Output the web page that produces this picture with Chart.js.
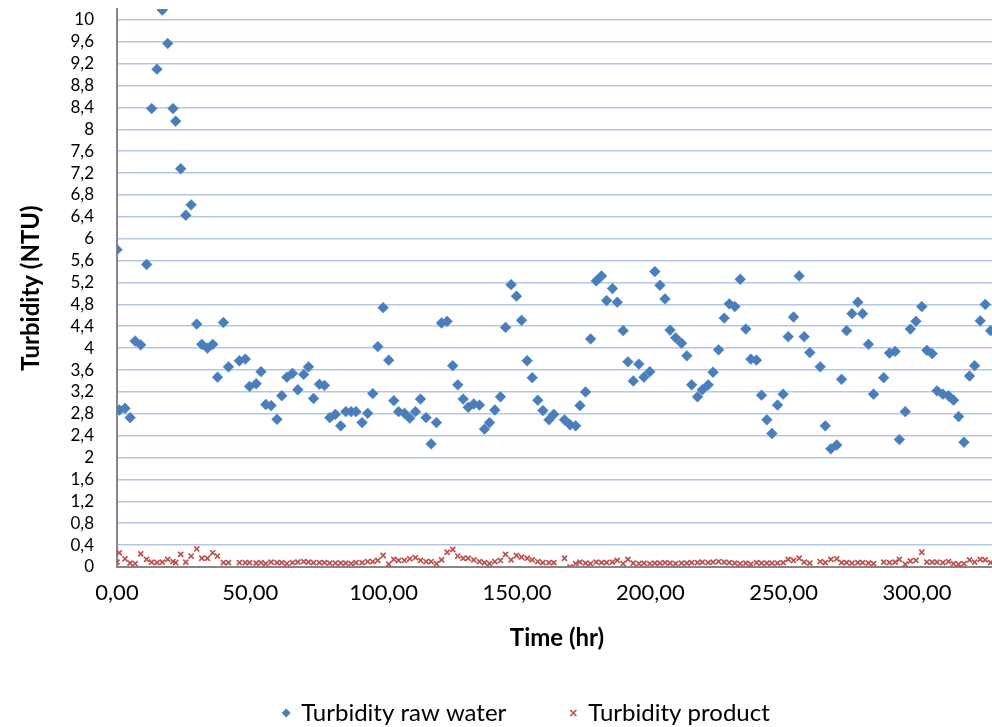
<!DOCTYPE html>
<html>
<head>
<meta charset="utf-8">
<script src="https://cdn.jsdelivr.net/npm/chart.js@4.4.1/dist/chart.umd.min.js"></script>
<style>
    html, body { margin: 0; padding: 0; background: #fff; overflow: hidden; }
    #chart-wrap { position: relative; width: 1052px; height: 727px; }
</style>
</head>
<body>
<div id="chart-wrap"><canvas id="turbidityChart"></canvas></div>
<script>
// sampling times (hr), shared by both series
const sampleHours = [
    0, 0.9, 3.0, 4.9, 6.8, 8.9, 11.1, 13.0, 15.0, 17.0, 19.0, 21.0, 22.0, 23.9, 25.8, 27.8,
    29.9, 31.8, 33.9, 35.9, 37.7, 39.9, 41.8, 45.9, 48.1, 49.7, 52.2, 54.0, 55.8, 57.8, 60.0,
    61.8, 63.7, 65.8, 67.8, 70.0, 71.8, 73.7, 75.9, 77.8, 79.8, 81.9, 83.9, 85.8, 87.8, 89.6,
    91.9, 94.0, 95.9, 97.8, 99.8, 101.9, 103.8, 105.6, 107.8, 109.8, 111.9, 113.8, 115.9, 117.8,
    119.8, 121.7, 123.8, 125.9, 127.8, 129.8, 131.7, 133.8, 135.9, 137.8, 139.7, 141.7, 143.8,
    145.7, 147.8, 149.8, 151.7, 153.8, 155.7, 157.8, 159.7, 162.0, 163.8, 167.8, 169.9, 172.0,
    173.6, 175.7, 177.6, 179.7, 181.7, 183.6, 185.8, 187.6, 189.8, 191.6, 193.6, 195.7, 197.6,
    199.8, 201.7, 203.6, 205.5, 207.4, 209.5, 211.7, 213.7, 215.5, 217.7, 219.5, 221.7, 223.5,
    225.6, 227.7, 229.6, 231.7, 233.7, 235.8, 237.7, 239.8, 241.7, 243.7, 245.6, 247.7, 249.8,
    251.7, 253.7, 255.8, 257.7, 259.8, 263.7, 265.6, 267.7, 269.9, 271.7, 273.6, 275.6, 277.8,
    279.6, 281.8, 283.7, 287.5, 289.7, 291.8, 293.4, 295.6, 297.5, 299.6, 301.8, 303.7, 305.7,
    307.5, 309.7, 311.8, 313.7, 315.6, 317.6, 319.7, 321.6, 323.7, 325.6, 327.6
];

const rawWaterNtu = [
    5.80, 2.87, 2.90, 2.73, 4.13, 4.06, 5.53, 8.38, 9.10, 10.18, 9.57, 8.38, 8.15, 7.28, 6.43, 6.62,
    4.44, 4.07, 4.00, 4.07, 3.47, 4.47, 3.66, 3.77, 3.80, 3.30, 3.35, 3.57, 2.97, 2.95, 2.70,
    3.13, 3.47, 3.54, 3.24, 3.52, 3.66, 3.08, 3.34, 3.32, 2.73, 2.79, 2.58, 2.84, 2.84, 2.84,
    2.64, 2.81, 3.17, 4.03, 4.74, 3.78, 3.04, 2.84, 2.81, 2.72, 2.84, 3.07, 2.73, 2.25,
    2.64, 4.46, 4.49, 3.68, 3.33, 3.07, 2.92, 2.98, 2.96, 2.52, 2.64, 2.87, 3.11,
    4.38, 5.16, 4.95, 4.51, 3.77, 3.46, 3.05, 2.86, 2.69, 2.79, 2.69, 2.60, 2.58,
    2.95, 3.20, 4.17, 5.23, 5.32, 4.87, 5.09, 4.84, 4.32, 3.75, 3.40, 3.71, 3.47,
    3.57, 5.40, 5.15, 4.90, 4.33, 4.19, 4.09, 3.86, 3.33, 3.11, 3.24, 3.33, 3.56,
    3.97, 4.55, 4.81, 4.76, 5.26, 4.35, 3.80, 3.78, 3.14, 2.69, 2.44, 2.96, 3.16,
    4.21, 4.57, 5.32, 4.21, 3.92, 3.66, 2.58, 2.16, 2.23, 3.43, 4.32, 4.63, 4.84,
    4.63, 4.07, 3.16, 3.46, 3.91, 3.94, 2.33, 2.84, 4.35, 4.49, 4.76, 3.96, 3.90,
    3.22, 3.16, 3.13, 3.05, 2.75, 2.28, 3.49, 3.68, 4.50, 4.80, 4.32
];

const productNtu = [
    0.09, 0.26, 0.15, 0.07, 0.06, 0.24, 0.14, 0.09, 0.08, 0.09, 0.14, 0.10, 0.08, 0.23, 0.09, 0.20,
    0.33, 0.16, 0.16, 0.26, 0.20, 0.08, 0.08, 0.08, 0.08, 0.08, 0.07, 0.08, 0.06, 0.09, 0.08,
    0.08, 0.06, 0.08, 0.09, 0.10, 0.09, 0.08, 0.08, 0.08, 0.07, 0.07, 0.07, 0.07, 0.06, 0.08,
    0.08, 0.10, 0.10, 0.12, 0.21, 0.05, 0.14, 0.12, 0.12, 0.15, 0.17, 0.12, 0.10, 0.10,
    0.06, 0.13, 0.27, 0.32, 0.20, 0.16, 0.16, 0.13, 0.10, 0.08, 0.06, 0.10, 0.12,
    0.23, 0.13, 0.21, 0.18, 0.16, 0.13, 0.10, 0.08, 0.08, 0.08, 0.16, 0.00, 0.06,
    0.09, 0.07, 0.06, 0.09, 0.08, 0.08, 0.09, 0.12, 0.06, 0.14, 0.07, 0.06, 0.07,
    0.06, 0.07, 0.07, 0.08, 0.07, 0.06, 0.07, 0.07, 0.08, 0.08, 0.09, 0.08, 0.09,
    0.10, 0.09, 0.08, 0.07, 0.06, 0.07, 0.05, 0.08, 0.07, 0.07, 0.07, 0.07, 0.08,
    0.14, 0.12, 0.16, 0.09, 0.07, 0.10, 0.08, 0.14, 0.15, 0.08, 0.08, 0.07, 0.08,
    0.08, 0.07, 0.06, 0.09, 0.08, 0.09, 0.14, 0.05, 0.11, 0.12, 0.27, 0.09, 0.09,
    0.09, 0.08, 0.10, 0.06, 0.05, 0.06, 0.13, 0.09, 0.14, 0.13, 0.08
];

const timeTicks = [0, 50, 100, 150, 200, 250, 300];
const turbidityTicks = [
    0, 0.4, 0.8, 1.2, 1.6, 2, 2.4, 2.8, 3.2, 3.6, 4, 4.4, 4.8, 5.2, 5.6, 6,
    6.4, 6.8, 7.2, 7.6, 8, 8.4, 8.8, 9.2, 9.6, 10
];

function toPoints(values) {
    return sampleHours.map((hour, i) => ({ x: hour, y: values[i] }));
}

function decimalComma(value, digits) {
    return value.toFixed(digits).replace(".", ",");
}

function formatTurbidity(value) {
    const rounded = Math.round(value * 10) / 10;
    return Number.isInteger(rounded) ? String(rounded) : decimalComma(rounded, 1);
}

Chart.defaults.font.family = "Lato, 'Open Sans', sans-serif";
Chart.defaults.color = "#000";

new Chart(document.getElementById("turbidityChart"), {
    type: "scatter",
    data: {
        datasets: [
            {
                label: "Turbidity raw water",
                data: toPoints(rawWaterNtu),
                pointStyle: "rectRot",
                pointRadius: 5.4,
                pointHoverRadius: 5.4,
                backgroundColor: "#4a7ebb",
                borderColor: "#4a7ebb",
                borderWidth: 0.5
            },
            {
                label: "Turbidity product",
                data: toPoints(productNtu),
                pointStyle: "crossRot",
                pointRadius: 3.6,
                pointHoverRadius: 3.6,
                backgroundColor: "#c0504d",
                borderColor: "#c0504d",
                borderWidth: 1.7
            }
        ]
    },
    options: {
        responsive: true,
        maintainAspectRatio: false,
        animation: false,
        layout: { padding: { left: 56, right: 55, top: 9, bottom: 0 } },
        plugins: {
            tooltip: { enabled: false },
            legend: {
                position: "bottom",
                maxHeight: 90,
                labels: {
                    usePointStyle: true,
                    boxWidth: 6,
                    boxHeight: 6,
                    padding: 64,
                    color: "#000",
                    font: { size: 24 }
                }
            }
        },
        scales: {
            x: {
                type: "linear",
                min: 0,
                max: 330,
                afterBuildTicks: (scale) => { scale.ticks = timeTicks.map((v) => ({ value: v })); },
                afterFit: (scale) => {
                    scale.height = 70;
                    scale.paddingLeft = 0;
                    scale.paddingRight = 0;
                },
                grid: { display: false },
                border: { display: true, color: "#868686", width: 2 },
                ticks: {
                    padding: 5,
                    color: "#000",
                    font: { size: 22 },
                    maxRotation: 0,
                    autoSkip: false,
                    callback: (value) => decimalComma(value, 2)
                },
                title: {
                    display: true,
                    text: "Time (hr)",
                    color: "#000",
                    font: { size: 24, weight: "bold" },
                    padding: { top: 0, bottom: -16 }
                }
            },
            y: {
                min: 0,
                max: 10.2,
                afterBuildTicks: (scale) => { scale.ticks = turbidityTicks.map((v) => ({ value: v })); },
                afterFit: (scale) => {
                    scale.width = 61;
                    scale.paddingTop = 0;
                    scale.paddingBottom = 0;
                },
                grid: { color: "#b4c7e6", lineWidth: 1.6, drawTicks: false },
                border: { display: true, color: "#868686", width: 2 },
                ticks: {
                    padding: 23,
                    color: "#000",
                    font: { size: 17 },
                    autoSkip: false,
                    callback: (value) => formatTurbidity(value)
                },
                title: {
                    display: true,
                    text: "Turbidity (NTU)",
                    color: "#000",
                    font: { size: 24, weight: "bold" },
                    padding: { top: -39, bottom: 0 }
                }
            }
        }
    }
});
</script>
</body>
</html>
